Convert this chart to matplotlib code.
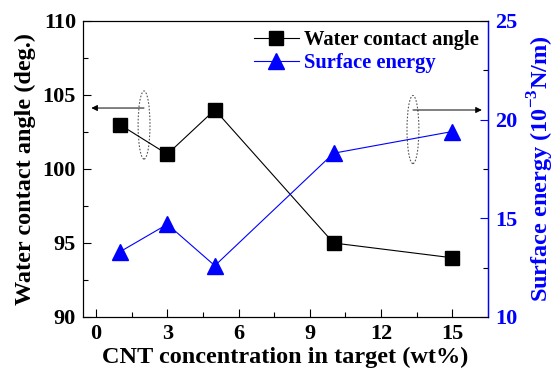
import matplotlib.pyplot as plt
import numpy as np
from matplotlib.patches import Ellipse

plt.rcParams['font.family'] = ['Liberation Serif', 'DejaVu Serif']
plt.rcParams['font.weight'] = 'bold'
plt.rcParams['mathtext.fontset'] = 'custom'
plt.rcParams['mathtext.rm'] = 'Liberation Serif:bold'
plt.rcParams['mathtext.bf'] = 'Liberation Serif:bold'

# data
cnt = [1, 3, 5, 10, 15]
contact_angle = [103, 101, 104, 95, 94]
surface_energy = [13.3, 14.7, 12.6, 18.3, 19.4]
x_ticks = [0, 3, 6, 9, 12, 15]

blue = '#0000ff'

fig = plt.figure(figsize=(5.56, 3.74), dpi=100)
ax = fig.add_axes([83 / 556, 1 - 317 / 374, 405 / 556, 296 / 374])
ax2 = ax.twinx()

l1, = ax.plot(cnt, contact_angle, color='black', lw=0.8, marker='s', ms=9.5,
              markeredgecolor='black', markerfacecolor='black', label='Water contact angle')
l2, = ax2.plot(cnt, surface_energy, color=blue, lw=0.8, marker='^', ms=12,
               markeredgecolor=blue, markerfacecolor=blue, label='Surface energy')

ax.set_xlim(-0.55, 16.5)
ax.set_ylim(90, 110)
ax2.set_ylim(10, 25)
ax.set_xticks(x_ticks)
ax.set_xticks(np.arange(1.5, 16, 3), minor=True)
ax.set_yticks([90, 95, 100, 105, 110])
ax.set_yticks([92.5, 97.5, 102.5, 107.5], minor=True)
ax2.set_yticks([10, 15, 20, 25])
ax2.set_yticks([12.5, 17.5, 22.5], minor=True)

for a in (ax, ax2):
    a.tick_params(which='major', direction='in', length=6, width=0.8, labelsize=16)
    a.tick_params(which='minor', direction='in', length=3.5, width=0.8)
ax.tick_params(axis='x', pad=5)
ax.tick_params(axis='y', pad=5)
ax2.tick_params(axis='y', colors=blue, labelcolor=blue, pad=5)
ax2.spines['right'].set_color(blue)
ax2.spines['right'].set_linewidth(1.0)

ax.set_xlabel('CNT concentration in target (wt%)', fontsize=17.5, fontweight='bold', labelpad=2)
ax.set_ylabel('Water contact angle (deg.)', fontsize=17.5, fontweight='bold', labelpad=5)
ax2.set_ylabel('Surface energy (10$^{-3}$N/m)', fontsize=17.5, fontweight='bold',
               color=blue, labelpad=6)

# dashed ellipses with arrows pointing to the axes
ax.add_patch(Ellipse((2.02, 102.97), 0.5, 4.6, fill=False, ls=(0, (1.5, 1.5)),
                     lw=0.8, edgecolor='#555555'))
ax.annotate('', xy=(-0.2, 104.12), xytext=(2.02, 104.12),
            arrowprops=dict(arrowstyle='-|>', color='black', lw=0.7, mutation_scale=9,
                            shrinkA=0, shrinkB=0))
ax2.add_patch(Ellipse((13.34, 19.5), 0.5, 3.45, fill=False, ls=(0, (1.5, 1.5)),
                      lw=0.8, edgecolor='#555555'))
ax2.annotate('', xy=(16.24, 20.49), xytext=(13.34, 20.49),
             arrowprops=dict(arrowstyle='-|>', color='black', lw=0.7, mutation_scale=9,
                             shrinkA=0, shrinkB=0))

leg = ax.legend(handles=[l1, l2], loc='upper right', bbox_to_anchor=(1.0, 1.0),
                frameon=False, fontsize=14.8, handlelength=2.2, handletextpad=0.25,
                labelspacing=0.15, borderaxespad=0.05)
leg.get_texts()[1].set_color(blue)
for t in leg.get_texts():
    t.set_fontweight('bold')

fig.savefig('out.png', dpi=100)
